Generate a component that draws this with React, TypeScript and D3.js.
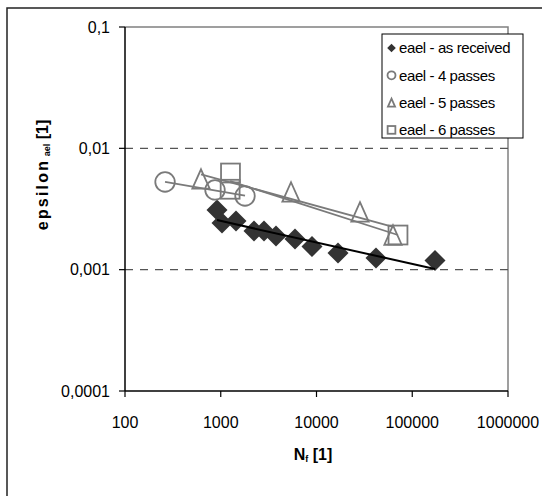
import React from "react";
import * as d3 from "d3";

// cycles to failure and elastic strain amplitude
const asReceivedN = [914, 1030, 1443, 2225, 2830, 3776, 5960, 8970, 16780, 41800, 172800];
const asReceivedEps = [0.0031, 0.00243, 0.00252, 0.00208, 0.00208, 0.00189, 0.00179, 0.00155, 0.00137, 0.00125, 0.00119];

const passes4N = [262, 871, 1792];
const passes4Eps = [0.00528, 0.00454, 0.00405];

const passes5N = [622, 5420, 28460, 62950];
const passes5Eps = [0.00559, 0.00437, 0.00299, 0.00193];

const passes6N = [1264, 1253, 70970];
const passes6Eps = [0.00626, 0.0046, 0.00193];

const xTicks = [100, 1000, 10000, 100000, 1000000];
const xTickLabels = ["100", "1000", "10000", "100000", "1000000"];
const yTicks = [0.1, 0.01, 0.001, 0.0001];
const yTickLabels = ["0,1", "0,01", "0,001", "0,0001"];
const gridValues = [0.01, 0.001];

const legendLabels = ["eael - as received", "eael - 4 passes", "eael - 5 passes", "eael - 6 passes"];

const W = 542;
const H = 496;
const FONT = "'Liberation Sans', Arial, sans-serif";
const GRAY = "#7a7a7a";

const x = d3.scaleLog().domain([100, 1000000]).range([125, 508]);
const y = d3.scaleLog().domain([0.0001, 0.1]).range([391, 27]);

// power-law trendline (least squares in log-log), like Excel's
function powerFit(ns: number[], es: number[]) {
  const lx = ns.map(Math.log10);
  const ly = es.map(Math.log10);
  const mx = d3.mean(lx)!;
  const my = d3.mean(ly)!;
  const sxy = d3.sum(lx, (v, i) => (v - mx) * (ly[i] - my));
  const sxx = d3.sum(lx, (v) => (v - mx) * (v - mx));
  const b = sxy / sxx;
  const [lo, hi] = d3.extent(ns) as [number, number];
  const f = (n: number) => Math.pow(10, my + b * (Math.log10(n) - mx));
  return [[lo, f(lo)], [hi, f(hi)]] as [number, number][];
}

const line = d3
  .line<[number, number]>()
  .x((d) => x(d[0]))
  .y((d) => y(d[1]));

const diamond = (cx: number, cy: number, r: number) =>
  `M${cx},${cy - r}L${cx + r},${cy}L${cx},${cy + r}L${cx - r},${cy}Z`;
const triangle = (cx: number, cy: number, w: number, h: number) =>
  `M${cx},${cy - h / 2}L${cx + w / 2},${cy + h / 2}L${cx - w / 2},${cy + h / 2}Z`;

function Marker({ kind, cx, cy, s }: { kind: number; cx: number; cy: number; s: number }) {
  if (kind === 0) return <path d={diamond(cx, cy, s)} fill="#333" />;
  if (kind === 1) return <circle cx={cx} cy={cy} r={s * 0.93} fill="none" stroke={GRAY} strokeWidth={1.8} />;
  if (kind === 2)
    return <path d={triangle(cx, cy, s * 1.65, s * 1.85)} fill="none" stroke={GRAY} strokeWidth={1.8} />;
  return (
    <rect x={cx - s * 0.9} y={cy - s * 0.9} width={s * 1.8} height={s * 1.8} fill="none" stroke={GRAY} strokeWidth={1.8} />
  );
}

export default function App() {
  const series = [
    { n: asReceivedN, e: asReceivedEps },
    { n: passes4N, e: passes4Eps },
    { n: passes5N, e: passes5Eps },
    { n: passes6N, e: passes6Eps },
  ];

  return (
    <svg
      width={W}
      height={H}
      style={{ position: "absolute", left: 0, top: 0, background: "#fff" }}
      fontFamily={FONT}
    >
      <rect x={0} y={0} width={W} height={H} fill="#fff" />
      {/* outer chart frame */}
      <rect x={7} y={8} width={W + 20} height={H + 20} fill="none" stroke="#222" strokeWidth={1.5} />

      {/* plot area border */}
      <path d={`M${x(100)},${y(0.1)}H${x(1000000)}V${y(0.0001)}`} fill="none" stroke="#808080" strokeWidth={1.5} />

      {gridValues.map((g) => (
        <line key={g} x1={x(100)} x2={x(1000000)} y1={y(g)} y2={y(g)} stroke="#555" strokeWidth={1.2} strokeDasharray="8,7" />
      ))}

      {/* axes */}
      <line x1={x(100)} x2={x(100)} y1={y(0.1)} y2={y(0.0001)} stroke="#000" strokeWidth={1.5} />
      <line x1={x(100)} x2={x(1000000)} y1={y(0.0001)} y2={y(0.0001)} stroke="#000" strokeWidth={1.5} />
      {yTicks.map((t, i) => (
        <g key={t}>
          <line x1={x(100) - 6} x2={x(100)} y1={y(t)} y2={y(t)} stroke="#000" strokeWidth={1.2} />
          <text x={110} y={y(t)} dy="0.36em" textAnchor="end" fontSize={16}>
            {yTickLabels[i]}
          </text>
        </g>
      ))}
      {xTicks.map((t, i) => (
        <g key={t}>
          <line x1={x(t)} x2={x(t)} y1={y(0.0001)} y2={y(0.0001) + 6} stroke="#000" strokeWidth={1.2} />
          <text x={x(t)} y={428} textAnchor="middle" fontSize={16}>
            {xTickLabels[i]}
          </text>
        </g>
      ))}

      {/* axis titles */}
      <text transform="translate(48,175) rotate(-90)" textAnchor="middle" fontSize={16} fontWeight="bold">
        <tspan letterSpacing={2.2}>epsilon</tspan>
        <tspan fontSize={9} dy={2}> ael</tspan>
        <tspan dy={-2}>  [1]</tspan>
      </text>
      <text x={313} y={460} textAnchor="middle" fontSize={16} fontWeight="bold">
        N<tspan fontSize={9} dy={2}>f</tspan>
        <tspan dy={-2}> [1]</tspan>
      </text>

      {/* markers */}
      {series.map((s, k) =>
        s.n.map((n, i) => <Marker key={`${k}-${i}`} kind={k} cx={x(n)} cy={y(s.e[i])} s={10.5} />)
      )}

      {/* trendlines */}
      {series.map((s, k) => (
        <path
          key={k}
          d={line(powerFit(s.n, s.e)) || ""}
          fill="none"
          stroke={k === 0 ? "#000" : GRAY}
          strokeWidth={k === 0 ? 2 : 1.8}
        />
      ))}

      {/* legend */}
      <rect x={382} y={34} width={141} height={104} fill="#fff" stroke="#000" strokeWidth={1} />
      {legendLabels.map((l, i) => {
        const cy = 48 + i * 27.3;
        return (
          <g key={l}>
            <Marker kind={i} cx={391.5} cy={cy} s={4.3} />
            <text x={399} y={cy} dy="0.35em" fontSize={15} letterSpacing={-0.4}>
              {l}
            </text>
          </g>
        );
      })}
    </svg>
  );
}
